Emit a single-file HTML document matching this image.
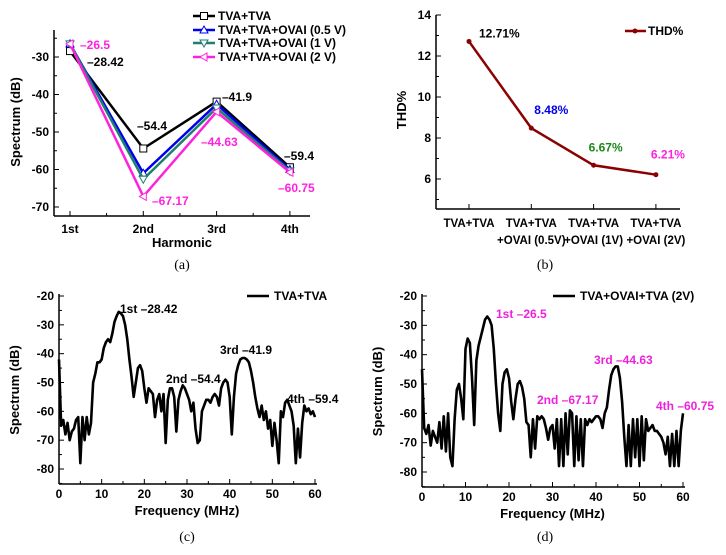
<!DOCTYPE html>
<html><head><meta charset="utf-8"><style>
body{margin:0;background:#fff}
svg{display:block;font-family:"Liberation Sans",Arial,sans-serif;font-weight:bold}
.cap{font-family:"Liberation Serif",serif;font-weight:normal;font-size:14px}
</style></head><body>
<svg id="fig" width="726" height="555" viewBox="0 0 726 555"></svg>
<script>
// Panel (a) data
const harmonics = ['1st','2nd','3rd','4th'];
const aTicks = [-30,-40,-50,-60,-70];
const seriesNames = ['TVA+TVA','TVA+TVA+OVAI (0.5 V)','TVA+TVA+OVAI (1 V)','TVA+TVA+OVAI (2 V)'];
const sBlack = [-28.42,-54.4,-41.9,-59.4];
const sBlue = [-26.5,-61.0,-42.6,-60.0];
const sTeal = [-26.5,-62.6,-43.6,-60.4];
const sMagenta = [-26.5,-67.17,-44.63,-60.75];
// Panel (b) data
const thdCats = [['TVA+TVA',''],['TVA+TVA','+OVAI (0.5V)'],['TVA+TVA','+OVAI (1V)'],['TVA+TVA','+OVAI (2V)']];
const thdVals = [12.71,8.48,6.67,6.21];
const thdLabels = ['12.71%','8.48%','6.67%','6.21%'];
const thdTicks = [6,8,10,12,14];
// Panels (c),(d) data (0.5 MHz steps from 0 to 60)
const specTicksX = [0,10,20,30,40,50,60];
const specTicksY = [-20,-30,-40,-50,-60,-70,-80];
const specC = [-42,-65,-63,-68,-64,-70,-67,-66,-63,-62,-78,-62,-70,-62,-68,-64,-50,-47,-43,-43,-42,-38,-36,-35,-36,-33,-29,-27,-25.5,-26,-27,-30,-35,-42,-48,-55,-50,-45,-44,-46,-52,-57,-52,-53,-54,-62,-56,-54,-60,-54,-71,-56,-52,-52,-55,-67,-56,-53,-51,-52,-54,-56,-60,-57,-66,-71,-70,-60,-58,-56,-56,-57,-55,-54,-55,-58,-52,-50,-49,-50,-55,-68,-55,-47,-44,-42,-41.5,-41.5,-42,-43,-46,-50,-55,-59,-62,-58,-63,-60,-66,-63,-72,-64,-70,-78,-60,-62,-57,-56,-58,-60,-65,-78,-66,-76,-64,-58,-60,-59,-61,-60,-62];
const specD = [-45,-65,-67,-64,-71,-66,-68,-70,-63,-72,-61,-73,-60,-75,-78,-62,-52,-50,-55,-62,-38,-34.5,-36,-48,-64,-42,-37,-34,-31,-28,-27,-28,-30,-38,-50,-60,-66,-50,-46,-45,-48,-56,-62,-55,-50,-49,-51,-55,-63,-64,-75,-62,-72,-61,-62,-61,-62,-65,-69,-65,-64,-72,-62,-78,-62,-78,-60,-74,-59,-60,-78,-61,-76,-62,-78,-62,-64,-62,-63,-62,-61,-61,-62,-65,-60,-58,-52,-47,-45,-44,-44,-48,-56,-68,-78,-64,-78,-62,-75,-62,-78,-61,-76,-62,-66,-65,-64,-66,-66,-67,-68,-70,-74,-68,-78,-67,-78,-66,-78,-66,-60];

const svg=document.getElementById('fig');
const NS='http://www.w3.org/2000/svg';
function mk(tag,at,parent){const e=document.createElementNS(NS,tag);for(const k in at)e.setAttribute(k,at[k]);(parent||svg).appendChild(e);return e;}
function txt(s,at,parent){const e=mk('text',at,parent);e.textContent=s;return e;}
function grp(name){const g=mk('g',{});return g;}

// ---------- Panel a ----------
(function(){
const g=grp('panel-a');
const L=54,B=216,T=30,R=310;
const y=v=>57+(-30-v)*3.75;
const x=i=>70+i*73.3;
mk('line',{x1:L,y1:T,x2:L,y2:B,stroke:'#000','stroke-width':1.5},g);
mk('line',{x1:L,y1:B,x2:R,y2:B,stroke:'#000','stroke-width':1.5},g);
for(let v=-25;v>=-70;v-=5){const major=v%10===0;mk('line',{x1:L,y1:y(v),x2:L+(major?5:3),y2:y(v),stroke:'#000','stroke-width':1},g);}
aTicks.forEach(v=>{const t=txt(v,{x:L-5,y:y(v)+4,'text-anchor':'end','font-size':12},g);});
harmonics.forEach((h,i)=>{mk('line',{x1:x(i),y1:B,x2:x(i),y2:B-5,stroke:'#000'},g);if(i<3)mk('line',{x1:x(i)+36.6,y1:B,x2:x(i)+36.6,y2:B-3,stroke:'#000'},g);
const t=txt(h,{x:x(i),y:233,'text-anchor':'middle','font-size':12},g);});
const xt=txt('Harmonic',{x:182,y:247,'text-anchor':'middle','font-size':13},g);
const yt=txt('Spectrum (dB)',{x:0,y:0,'text-anchor':'middle','font-size':13,transform:'translate(20,122) rotate(-90)'},g);
const cols=['#000','#0000ee','#1e7f6e','#ff22dd'];
const data=[sBlack,sBlue,sTeal,sMagenta];
const mkr=(k,cx,cy,c,p)=>{
 if(k===0)return mk('rect',{x:cx-3.5,y:cy-3.5,width:7,height:7,fill:'#fff',stroke:c,'stroke-width':1},p);
 if(k===1)return mk('polygon',{points:`${cx},${cy-4} ${cx-4},${cy+3} ${cx+4},${cy+3}`,fill:'#fff',stroke:c},p);
 if(k===2)return mk('polygon',{points:`${cx},${cy+4} ${cx-4},${cy-3} ${cx+4},${cy-3}`,fill:'#fff',stroke:c},p);
 return mk('polygon',{points:`${cx-4},${cy} ${cx+3},${cy-4} ${cx+3},${cy+4}`,fill:'#fff',stroke:c},p);};
data.forEach((s,k)=>{
 const pl=mk('polyline',{points:s.map((v,i)=>x(i)+','+y(v)).join(' '),fill:'none',stroke:cols[k],'stroke-width':2.5},g);
 
 s.forEach((v,i)=>{const m=mkr(k,x(i),y(v),cols[k],g);});
});
// legend
seriesNames.forEach((n,k)=>{const ly=[16,30,43,57][k];
 mk('line',{x1:193,y1:ly,x2:215,y2:ly,stroke:cols[k],'stroke-width':2.5},g);mkr(k,204,ly,cols[k],g);
 const t=txt(n,{x:218,y:ly+4,'font-size':12},g);});
// annotations
const ann=[['\u201326.5',80,49,'#ff22dd'],['\u201328.42',87,66,'#000'],['\u201354.4',137,130,'#000'],['\u201367.17',152,205,'#ff22dd'],['\u201341.9',222,101,'#000'],['\u201344.63',201,146,'#ff22dd'],['\u201359.4',284,160,'#000'],['\u201360.75',278,192,'#ff22dd']];
ann.forEach(a=>{const t=txt(a[0],{x:a[1],y:a[2],'font-size':12,fill:a[3]},g);});
const c=txt('(a)',{x:182,y:269,'text-anchor':'middle',class:'cap'},g);
})();

// ---------- Panel b ----------
(function(){
const g=grp('panel-b');
const L=436,B=209,T=15,R=680;
const y=v=>179-(v-6)*20.5;
const x=i=>469+i*62.3;
mk('line',{x1:L,y1:T,x2:L,y2:B,stroke:'#000','stroke-width':1.5},g);
mk('line',{x1:L,y1:B,x2:R,y2:B,stroke:'#000','stroke-width':1.5},g);
for(let v=5;v<=14;v+=1){const major=v%2===0;mk('line',{x1:L,y1:y(v),x2:L+(major?5:3),y2:y(v),stroke:'#000'},g);}
thdTicks.forEach(v=>{const t=txt(v,{x:L-5,y:y(v)+4,'text-anchor':'end','font-size':12},g);});
thdCats.forEach((c,i)=>{mk('line',{x1:x(i),y1:B,x2:x(i),y2:B-5,stroke:'#000'},g);
 const t=txt(c[0],{x:x(i),y:227,'text-anchor':'middle','font-size':11.5},g);
 if(c[1]){const t2=txt(c[1],{x:x(i),y:244,'text-anchor':'middle','font-size':11.5},g);}});
const yt=txt('THD%',{x:0,y:0,'text-anchor':'middle','font-size':13,transform:'translate(406,110) rotate(-90)'},g);
const pl=mk('polyline',{points:thdVals.map((v,i)=>x(i)+','+y(v)).join(' '),fill:'none',stroke:'#8b0000','stroke-width':2.5},g);

const lc=['#000','#0000ee','#1a8a1a','#ff22dd'];
const off=[[10,-4],[3,-14],[-5,-14],[-5,-16]];
thdVals.forEach((v,i)=>{const m=mk('circle',{cx:x(i),cy:y(v),r:2.5,fill:'#8b0000'},g);
 const t=txt(thdLabels[i],{x:x(i)+off[i][0],y:y(v)+off[i][1],'font-size':12,fill:lc[i]},g);});
mk('line',{x1:625,y1:31,x2:646,y2:31,stroke:'#8b0000','stroke-width':2.5},g);mk('circle',{cx:635,cy:31,r:2.5,fill:'#8b0000'},g);
const lt=txt('THD%',{x:648,y:35,'font-size':12},g);
const c=txt('(b)',{x:545,y:269,'text-anchor':'middle',class:'cap'},g);
})();

// ---------- Spectrum panels ----------
function spectrum(name,data,L,B,x60,y20,y80,legend,legX,ann,annCol,cap,capX){
const g=grp(name);
const x=f=>L+f*(x60-L)/60;
const y=v=>y20+(-20-v)*(y80-y20)/60;
mk('line',{x1:L,y1:y(-20)-2,x2:L,y2:B,stroke:'#000','stroke-width':1.5},g);
mk('line',{x1:L,y1:B,x2:x60+2,y2:B,stroke:'#000','stroke-width':1.5},g);
for(let v=-20;v>=-85;v-=5){const major=v%10===0;mk('line',{x1:L,y1:y(v),x2:L+(major?5:3),y2:y(v),stroke:'#000'},g);}
for(let f=0;f<=60;f+=5){const major=f%10===0;mk('line',{x1:x(f),y1:B,x2:x(f),y2:B-(major?5:3),stroke:'#000'},g);}
specTicksY.forEach(v=>{const t=txt(v,{x:L-5,y:y(v)+4,'text-anchor':'end','font-size':12},g);});
specTicksX.forEach(f=>{const t=txt(f,{x:x(f),y:B+14,'text-anchor':'middle','font-size':12},g);});
const xt=txt('Frequency (MHz)',{x:(L+x60)/2,y:B+31,'text-anchor':'middle','font-size':13},g);
const yt=txt('Spectrum (dB)',{x:0,y:0,'text-anchor':'middle','font-size':13,transform:`translate(${L-40},${(y(-20)+B)/2}) rotate(-90)`},g);
const pl=mk('polyline',{points:data.map((v,i)=>x(i*0.5)+','+y(v)).join(' '),fill:'none',stroke:'#000','stroke-width':2.6,'stroke-linejoin':'round'},g);

mk('line',{x1:legX,y1:296,x2:legX+22,y2:296,stroke:'#000','stroke-width':2.5},g);
const lt=txt(legend,{x:legX+27,y:300,'font-size':12},g);
ann.forEach(a=>{const t=txt(a[0],{x:a[1],y:a[2],'font-size':12,fill:annCol},g);});
const c=txt(cap,{x:capX,y:541,'text-anchor':'middle',class:'cap'},g);
}
spectrum('panel-c',specC,59,484,315,296,469,'TVA+TVA',247,
 [['1st \u201328.42',120,313],['2nd \u201354.4',166,383],['3rd \u201341.9',220,354],['4th \u201359.4',287,403]],'#000','(c)',187);
spectrum('panel-d',specD,422,487,683,296,472,'TVA+OVAI+TVA (2V)',553,
 [['1st \u201326.5',496,318],['2nd \u201367.17',537,404],['3rd \u201344.63',594,364],['4th \u201360.75',656,410]],'#ee22dd','(d)',545);
</script>
</body></html>
